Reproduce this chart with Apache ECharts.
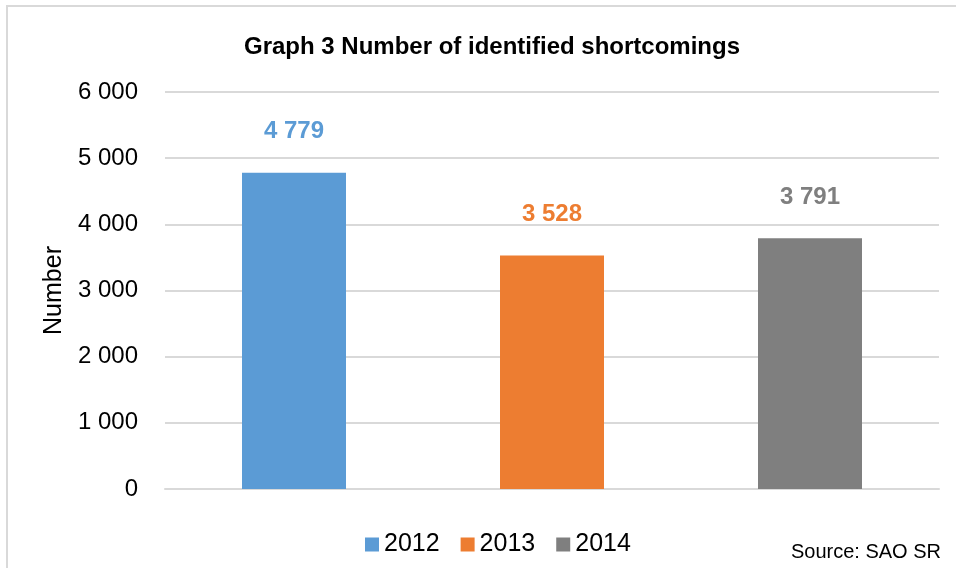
<!DOCTYPE html>
<html>
<head>
<meta charset="utf-8">
<script src="https://cdn.jsdelivr.net/npm/echarts@6/dist/echarts.min.js"></script>
<style>html,body{margin:0;padding:0;background:#fff;}#c{width:956px;height:578px;}</style>
</head>
<body>
<div id="c"></div>
<script>
const categories = ['2012', '2013', '2014'];
const seriesNames = ['2012', '2013', '2014'];
const values = [4779, 3528, 3791];
const colors = ['#5B9BD5', '#ED7D31', '#7F7F7F'];
const yTicks = [0, 1000, 2000, 3000, 4000, 5000, 6000];

const FONT = "'Liberation Sans Narrow', 'Arial Narrow', 'Liberation Sans', sans-serif";
const fmt = v => String(v).replace(/\B(?=(\d{3})+(?!\d))/g, ' ');

const chart = echarts.init(document.getElementById('c'), null, {renderer: 'canvas'});
chart.setOption({
  animation: false,
  backgroundColor: '#fff',
  textStyle: {fontFamily: FONT},
  title: {
    text: 'Graph 3 Number of identified shortcomings',
    left: 487, top: 30, textAlign: 'center',
    textStyle: {fontFamily: FONT, fontSize: 24, fontWeight: 'bold', color: '#000'}
  },
  grid: {left: 165, right: 17, top: 92, bottom: 89, containLabel: false},
  legend: {
    data: seriesNames,
    bottom: 16, left: 360,
    icon: 'rect', itemWidth: 14, itemHeight: 14, itemGap: 21,
    textStyle: {fontFamily: FONT, fontSize: 25, color: '#000'}
  },
  xAxis: {
    type: 'category', data: categories,
    axisLabel: {show: false}, axisTick: {show: false},
    axisLine: {show: true, lineStyle: {color: '#d9d9d9', width: 2}}
  },
  yAxis: {
    type: 'value', min: yTicks[0], max: yTicks[yTicks.length - 1], interval: 1000,
    name: 'Number', nameLocation: 'middle', nameRotate: 90, nameGap: 84,
    nameTextStyle: {fontFamily: FONT, fontSize: 25, color: '#000'},
    axisLine: {show: false}, axisTick: {show: false},
    axisLabel: {fontFamily: FONT, fontSize: 24, color: '#000', margin: 27, formatter: fmt},
    splitLine: {lineStyle: {color: '#d9d9d9', width: 2}}
  },
  graphic: [
    {type: 'polyline', shape: {points: [[7, 568], [7, 6], [956, 6]]}, style: {stroke: '#d9d9d9', lineWidth: 2, fill: null}, silent: true},
    {type: 'text', right: 15, top: 542, style: {text: 'Source: SAO SR', fontFamily: FONT, fontSize: 20, fill: '#000'}}
  ],
  series: seriesNames.map((name, i) => ({
    name: name, type: 'bar', stack: 'all', barWidth: 104,
    itemStyle: {color: colors[i]},
    data: categories.map((c, j) => j === i ? values[i] : null),
    label: {
      show: true, position: 'top', distance: 29,
      fontFamily: FONT, fontSize: 24, fontWeight: 'bold', color: colors[i],
      formatter: p => fmt(p.value)
    }
  }))
});
</script>
</body>
</html>
